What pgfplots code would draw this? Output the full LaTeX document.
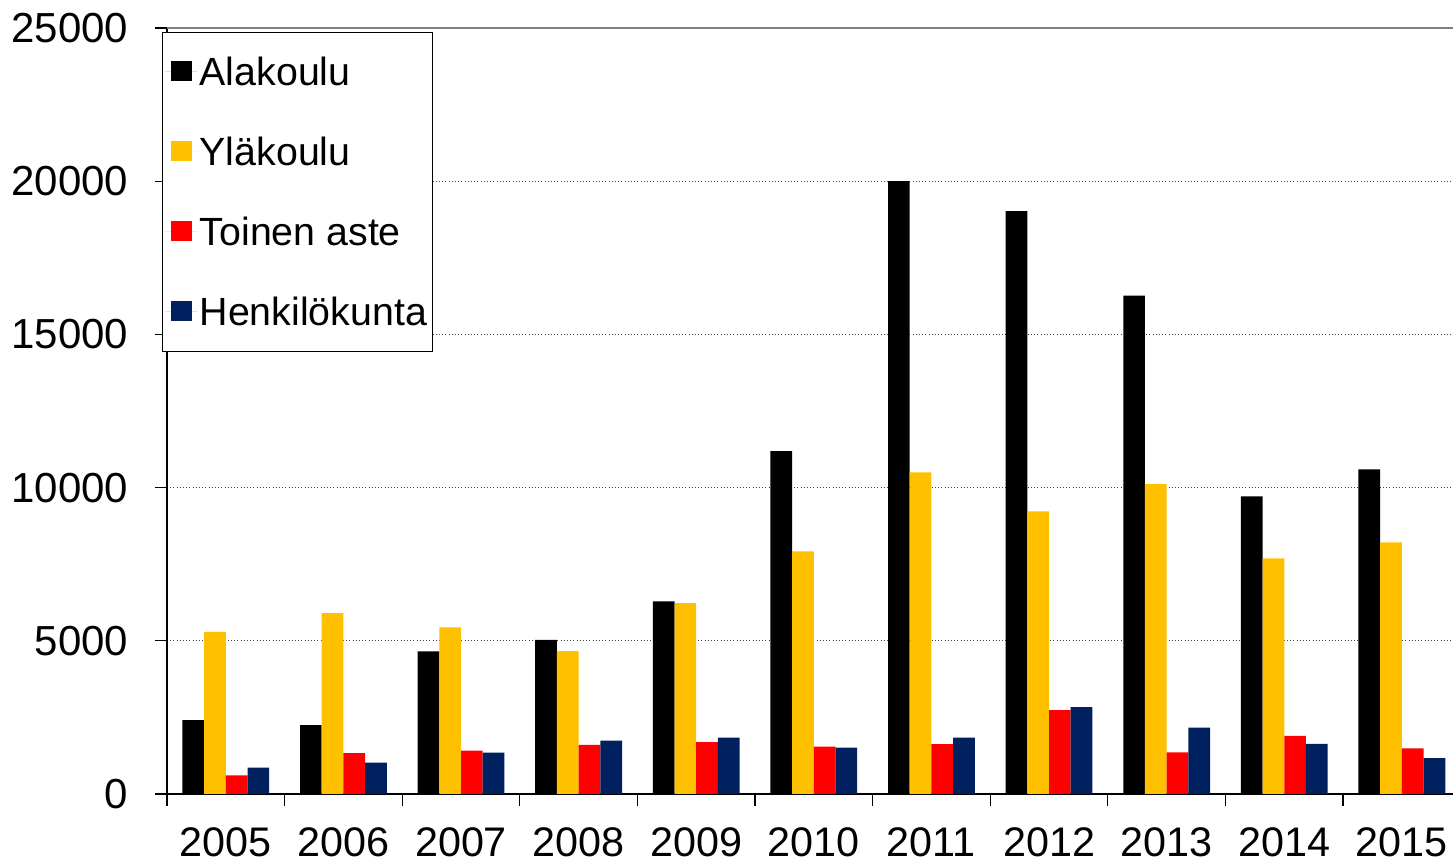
\documentclass[border=0pt]{standalone}
\usepackage{fontspec}
\setmainfont{Liberation Sans}
\usepackage{pgfplots}
\pgfplotsset{compat=1.18}
\definecolor{cA}{RGB}{0,0,0}
\definecolor{cY}{RGB}{255,192,0}
\definecolor{cR}{RGB}{255,0,0}
\definecolor{cB}{RGB}{0,32,96}
\begin{document}
\begin{tikzpicture}
\useasboundingbox (0,0) rectangle (1089.75pt,647.25pt);
\begin{axis}[
  at={(125.25pt,51.75pt)}, anchor=south west,
  scale only axis, width=964.5pt, height=574.5pt,
  xmin=-0.5, xmax=10.435, ymin=0, ymax=25000,
  ybar=0pt, bar width=0.1845,
  axis x line*=bottom, axis y line*=left,
  axis line style={-, black, line width=1.2pt},
  clip=false,
  xtick={0,...,10},
  xticklabels={2005,2006,2007,2008,2009,2010,2011,2012,2013,2014,2015},
  minor xtick={-0.5,0.5,1.5,2.5,3.5,4.5,5.5,6.5,7.5,8.5,9.5},
  major x tick style={draw=none},
  minor x tick style={black, line width=0.9pt},
  ytick={0,5000,10000,15000,20000,25000},
  y tick style={black, line width=0.9pt},
  tick align=outside,
  major tick length=9pt, minor tick length=9pt,
  scaled y ticks=false,
  /pgf/number format/assume math mode=true,
  /pgf/number format/1000 sep={},
  xticklabel style={font=\fontsize{31}{37}\selectfont, yshift=-13pt},
  yticklabel style={font=\fontsize{31.5}{37}\selectfont, xshift=-16.5pt},
  ymajorgrids,
  grid style={dotted, black!75, line width=0.8pt},
  legend style={at={(-0.0039,0.9948)}, anchor=north west,
    draw=black, line width=0.6pt, fill=white,
    font=\fontsize{29.5}{35}\selectfont,
    inner xsep=2pt, inner ysep=0pt,
    row sep=0.75pt,
    nodes={inner ysep=0pt, inner xsep=2pt, text height=39.75pt, text depth=19.5pt}},
  legend cell align=left,
  legend image code/.code={\path (0pt,0pt) -- (24pt,0pt);\fill[#1] (4.5pt,-7pt) rectangle (20pt,8.5pt);},
]
\addplot[fill=cA, draw=none] coordinates {(0,2410) (1,2245) (2,4653) (3,5033) (4,6287) (5,11194) (6,20000) (7,19022) (8,16262) (9,9716) (10,10597)};
\addplot[fill=cY, draw=none] coordinates {(0,5294) (1,5905) (2,5437) (3,4663) (4,6232) (5,7922) (6,10499) (7,9227) (8,10117) (9,7694) (10,8216)};
\addplot[fill=cR, draw=none] coordinates {(0,611) (1,1330) (2,1417) (3,1601) (4,1689) (5,1548) (6,1624) (7,2735) (8,1362) (9,1895) (10,1493)};
\addplot[fill=cB, draw=none] coordinates {(0,862) (1,1026) (2,1352) (3,1744) (4,1843) (5,1516) (6,1843) (7,2833) (8,2170) (9,1634) (10,1167)};
\legend{Alakoulu, Yläkoulu, Toinen aste, Henkilökunta}
\draw[gray, line width=1.8pt] (rel axis cs:0,1) -- (rel axis cs:1,1);
\end{axis}
\end{tikzpicture}
\end{document}
